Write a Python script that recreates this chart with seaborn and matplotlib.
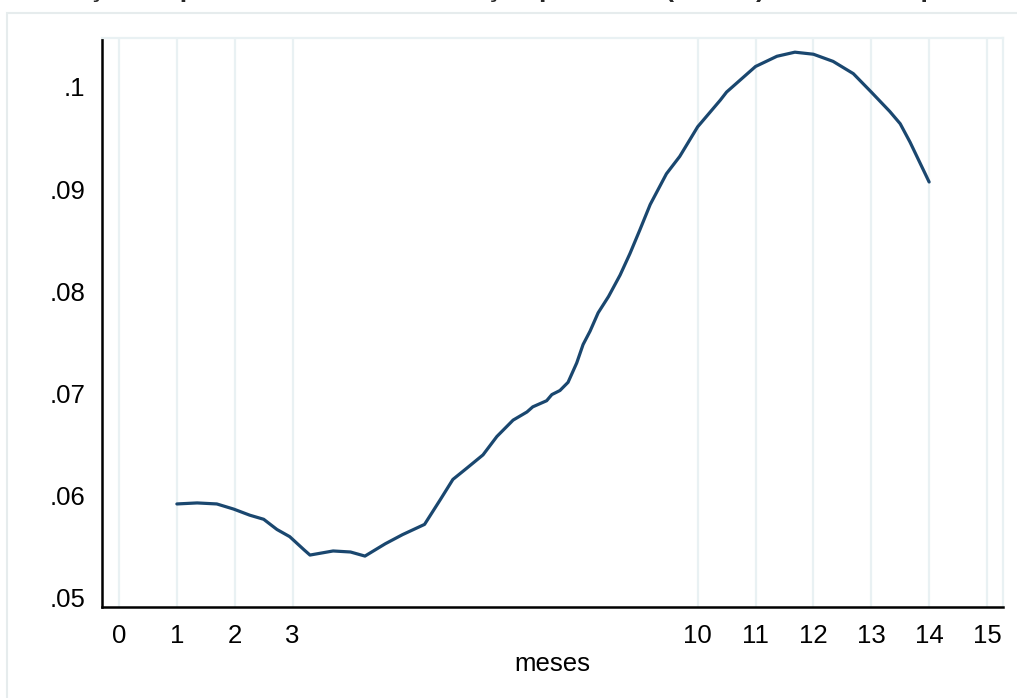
import numpy as np
import pandas as pd
import seaborn as sns
import matplotlib.pyplot as plt
from matplotlib.patches import Rectangle

# valores
meses = [1.0, 1.35, 1.69, 1.98, 2.26, 2.5, 2.73, 2.95, 3.2, 3.3, 3.7, 4.0, 4.25,
         4.6, 4.9, 5.28, 5.55, 5.77, 6.01, 6.29, 6.53, 6.81, 7.05, 7.15, 7.39,
         7.48, 7.62, 7.76, 7.91, 8.02, 8.14, 8.28, 8.46, 8.66, 8.83, 9.0, 9.18,
         9.46, 9.69, 10.0, 10.39, 10.5, 11.0, 11.37, 11.68, 12.0, 12.34, 12.69,
         13.0, 13.32, 13.5, 13.67, 14.0]
prob = [0.0592, 0.0593, 0.0592, 0.0587, 0.0581, 0.0577, 0.0567, 0.0560, 0.0547,
        0.0542, 0.0546, 0.0545, 0.0541,
        0.0553, 0.0562, 0.0572, 0.0596, 0.0616, 0.0627, 0.0640, 0.0658, 0.0674,
        0.0682, 0.0687, 0.0693,
        0.0699, 0.0703, 0.0711, 0.0730, 0.0748, 0.0761, 0.0779, 0.0795, 0.0816,
        0.0837, 0.0860, 0.0885,
        0.0915, 0.0932, 0.0961, 0.0987, 0.0995, 0.1020, 0.1030, 0.1034, 0.1032,
        0.1025, 0.1013,
        0.0995, 0.0976, 0.0964, 0.0946, 0.0907]
xticks = [0, 1, 2, 3, 10, 11, 12, 13, 14, 15]
yticks = [0.05, 0.06, 0.07, 0.08, 0.09, 0.10]
ylabels = [".05", ".06", ".07", ".08", ".09", ".1"]

df = pd.DataFrame({"meses": meses, "prob": prob})

sns.set_style("white")
plt.rcParams["font.family"] = ["Liberation Sans", "DejaVu Sans"]

grid_cor = "#e9f1f3"
linha_cor = "#1a476f"

fig = plt.figure(figsize=(10.17, 6.98), dpi=100)
ax = fig.add_axes([0.1003, 0.1304, 0.8859, 0.8152])

for t in xticks:
    ax.axvline(t, color=grid_cor, lw=1.6, zorder=0)

sns.lineplot(data=df, x="meses", y="prob", color=linha_cor, lw=2.3, ax=ax)

ax.set_xlim(-0.294, 15.276)
ax.set_ylim(0.04912, 0.10479)
ax.set_xticks(xticks)
ax.set_xticklabels([str(t) for t in xticks], fontsize=18.5)
ax.set_yticks(yticks)
ax.set_yticklabels(ylabels, fontsize=18.5)
ax.tick_params(axis="both", direction="out", length=7, width=1, color="black",
               labelcolor="black", pad=5)
ax.set_xlabel("meses", fontsize=18.5, labelpad=3, color="black")
ax.set_ylabel("")

for lado in ["left", "bottom"]:
    ax.spines[lado].set_color("black")
    ax.spines[lado].set_linewidth(1.8)
for lado in ["top", "right"]:
    ax.spines[lado].set_color(grid_cor)
    ax.spines[lado].set_linewidth(1.6)

# moldura externa
fig.patches.append(Rectangle((7 / 1017, -0.02), 1.02, 1 - 13 / 698 + 0.02,
                             transform=fig.transFigure, fill=False,
                             edgecolor="#e6eced", lw=1.5))

# título cortado no topo
fig.text(0.515, 1.005, "Evolução da probabilidade de internação por idade (meses) na amostra por sexo",
         ha="center", va="baseline", fontsize=19, fontweight="bold")

fig.savefig("out.png", dpi=100)
